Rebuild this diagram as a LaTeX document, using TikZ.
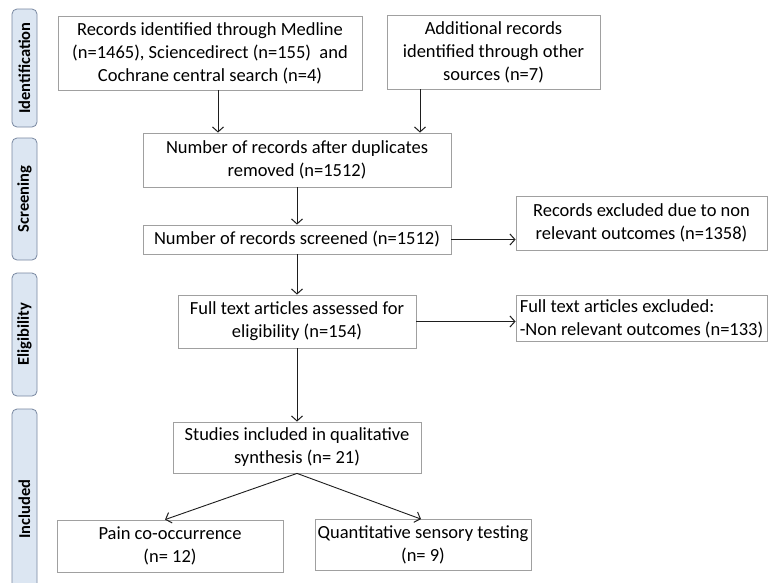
\documentclass[tikz,border=0pt]{standalone}
\usepackage{fontspec}
\setmainfont{Carlito}
\usetikzlibrary{arrows.meta}
\definecolor{boxgray}{RGB}{160,160,160}
\definecolor{phasefill}{RGB}{220,230,242}
\definecolor{phaseborder}{RGB}{120,135,160}
\definecolor{arrowcol}{RGB}{30,30,30}
\begin{document}
\begin{tikzpicture}[x=1pt,y=-1pt,
  box/.style={draw=boxgray, line width=0.8pt, align=center, inner sep=1pt,
    font=\fontsize{18.5}{23}\selectfont, text=black},
  arr/.style={draw=arrowcol, line width=0.9pt, -{Straight Barb[length=5pt,width=11pt,line width=1pt]}},
  phase/.style={draw=phaseborder, fill=phasefill, rounded corners=5pt, line width=0.8pt,
    rotate=90, minimum height=25pt, inner sep=0pt, font=\fontsize{16.5}{18}\selectfont\bfseries}]
\useasboundingbox (0,0) rectangle (768,582);
\clip (0,0) rectangle (768,582);
\fill[white] (0,0) rectangle (768,582);

% phase bars
\node[phase, minimum width=118pt] (ph1) at (24.5,68) {Identification};
\node[phase, minimum width=122pt] (ph2) at (24.5,199) {Screening};
\node[phase, minimum width=123pt] (ph3) at (24.5,334.5) {Eligibility};
\node[phase, minimum width=200pt] (ph4) at (24.5,509) {Included};

% boxes
\node[box, minimum width=304pt, minimum height=74pt] (b1) at (210,53)
  {Records identified through Medline\\(n=1465), Sciencedirect (n=155)\ \ and\\Cochrane central search (n=4)};
\node[box, minimum width=213pt, minimum height=74pt] (b2) at (493.5,52)
  {Additional records\\identified through other\\sources (n=7)};
\node[box, minimum width=308pt, minimum height=54pt] (b3) at (297,160)
  {Number of records after duplicates\\removed (n=1512)};
\node[box, minimum width=308pt, minimum height=29pt] (b4) at (297,239.5)
  {Number of records screened (n=1512)};
\node[box, minimum width=251pt, minimum height=54pt] (b5) at (641.5,223)
  {Records excluded due to non\\relevant outcomes (n=1358)};
\node[box, minimum width=238pt, minimum height=53pt] (b6) at (297,321.5)
  {Full text articles assessed for\\eligibility (n=154)};
\node[box, minimum width=251pt, minimum height=46pt, align=left] (b7) at (641.5,318.5)
  {Full text articles excluded:\\-Non relevant outcomes (n=133)};
\node[box, minimum width=248pt, minimum height=51pt] (b8) at (297,447.5)
  {Studies included in qualitative\\synthesis (n= 21)};
\node[box, minimum width=226pt, minimum height=52pt] (b9) at (170,546)
  {Pain co-occurrence\\(n= 12)};
\node[box, minimum width=216pt, minimum height=51pt] (b10) at (423,545)
  {Quantitative sensory testing\\(n= 9)};

% connectors
\draw[arr] (b1.south -| 218,0) -- (b3.north -| 218,0);
\draw[arr] (b2.south -| 420,0) -- (b3.north -| 420,0);
\draw[arr] (b3.south) -- (b4.north);
\draw[arr] (b4.east) -- (b4.east -| b5.west);
\draw[arr] (b4.south) -- (b6.north);
\draw[arr] (b6.east) -- (b6.east -| b7.west);
\draw[arr] (b6.south) -- (b8.north);
\draw[arr] (b8.south) -- (b9.north -| 165,0);
\draw[arr] (b8.south) -- (b10.north -| 421,0);
\end{tikzpicture}
\end{document}
